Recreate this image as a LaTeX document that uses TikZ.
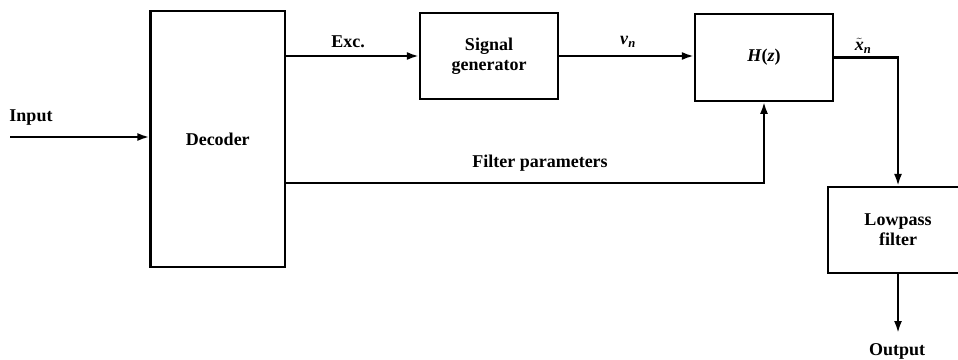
\documentclass[tikz,border=0pt]{standalone}
\usepackage{fontspec}
\setmainfont{Liberation Serif}
\usetikzlibrary{arrows.meta}
\newcommand{\subn}{\textsubscript{\textit{n}}}
\begin{document}
\begin{tikzpicture}[x=1pt,y=-1pt,
  blk/.style={draw,line width=2.2pt,minimum width=#1,inner sep=0pt,align=center,font=\fontsize{18}{20}\selectfont\bfseries},
  lbl/.style={inner sep=0pt,font=\fontsize{18}{20}\selectfont\bfseries},
  conn/.style={line width=2.2pt},
  arr/.style={conn,-{Latex[length=12pt,width=8pt]}}]
\useasboundingbox (0,0) rectangle (958,359);
\clip (0,0) rectangle (958,359);
\node[blk=134.5pt,minimum height=256pt] (dec) at (217.75,139) {Decoder};
\node[blk=138pt,minimum height=86pt] (sig) at (489,56) {Signal\\generator};
\node[blk=138pt,minimum height=86.5pt] (hz) at (764,57.5) {\textit{H}(\textit{z})};
\node[blk=140pt,minimum height=86pt] (lp) at (898,230) {Lowpass\\filter};
\coordinate (in) at (10,137);
\coordinate (fp) at (764,183);
\coordinate (out) at (898,333);
\draw[arr] (in) -- (in -| dec.west);
\draw[arr] (dec.east |- sig.west) -- (sig.west);
\draw[arr] (sig.east) -- (sig.east -| hz.west);
\draw[arr] (dec.east |- fp) -- (fp) -- (hz.south);
\draw[arr] (hz.east) -- (lp.north |- hz.east) -- (lp.north);
\draw[arr] (lp.south) -- (out);
\node[lbl] (linput) at (31,118) {Input};
\node[lbl] (lexc) at (348,42) {Exc.};
\node[lbl] (lvn) at (628,42) {\textit{v}\subn};
\node[lbl] (lxn) at (863,46) {$\tilde{\hbox{\itshape x}}$\subn};
\node[lbl] (lfp) at (540,163) {Filter parameters};
\node[lbl] (lout) at (897,351) {Output};
\end{tikzpicture}
\end{document}
